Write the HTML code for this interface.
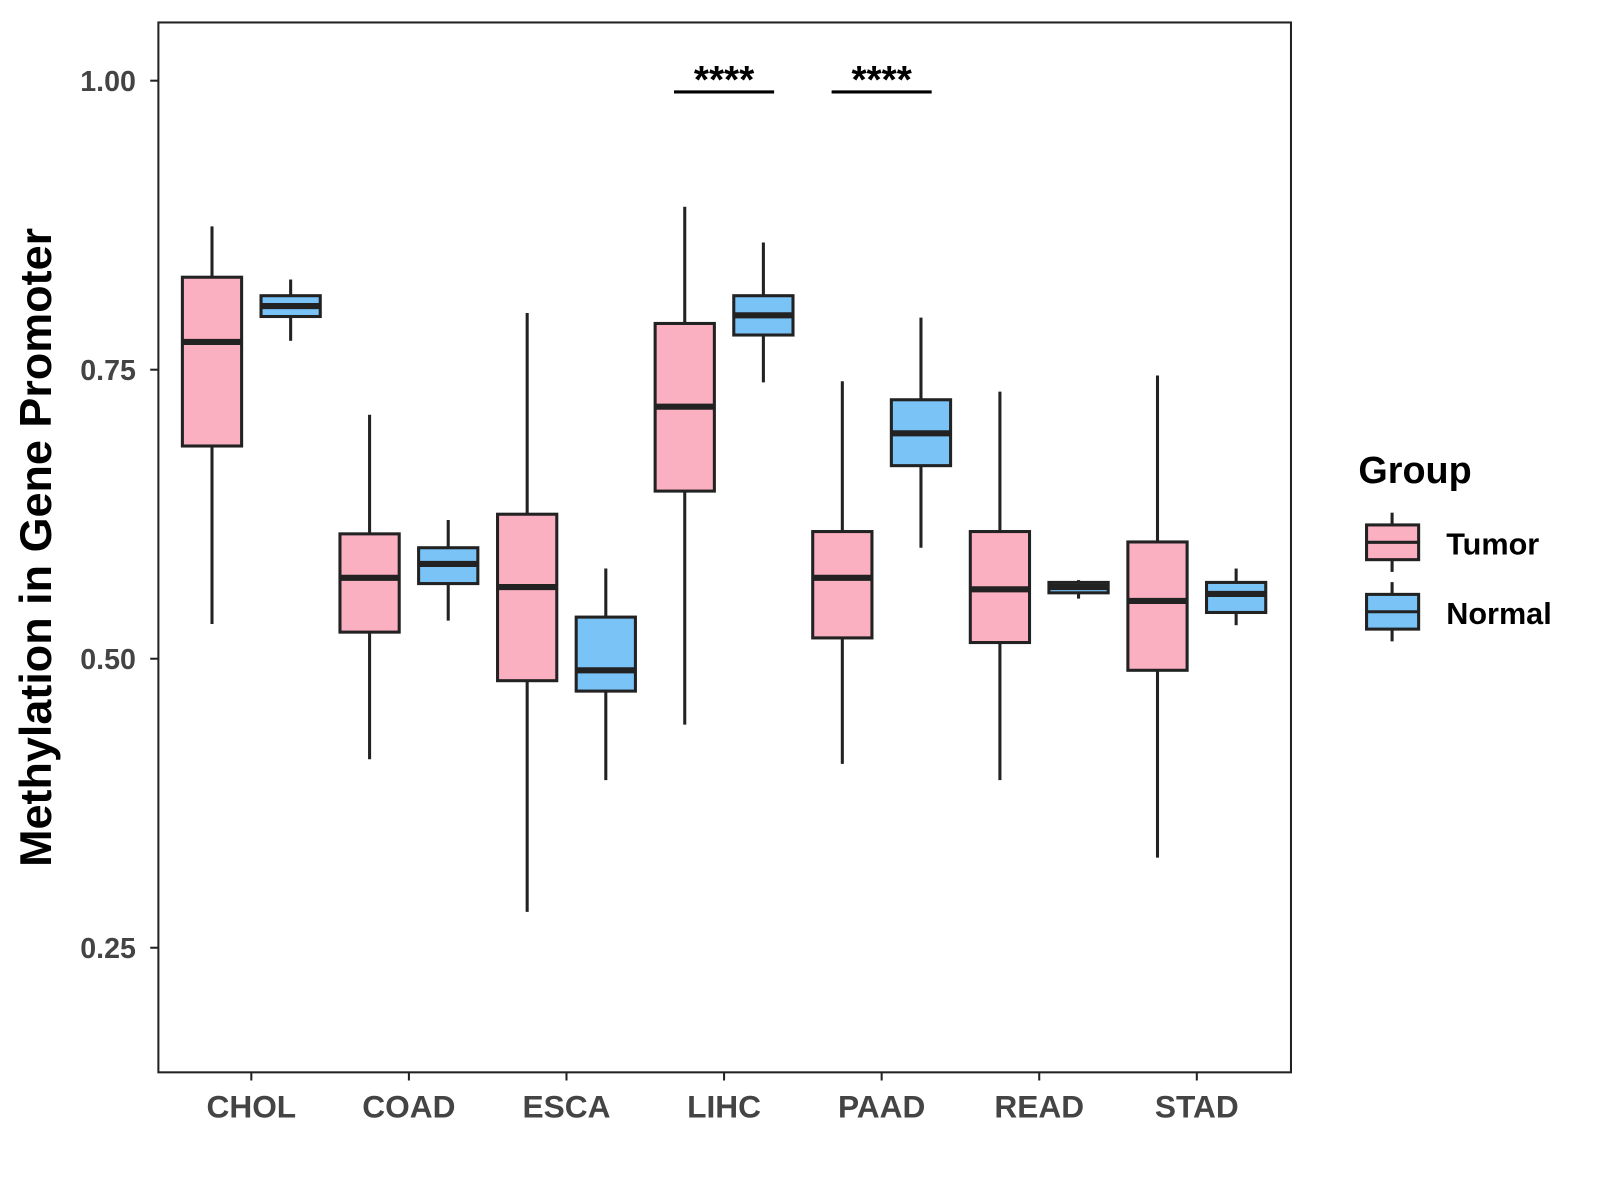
<!DOCTYPE html>
<html><head><meta charset="utf-8"><style>
html,body{margin:0;padding:0;background:#fff;}
svg{display:block;font-family:"Liberation Sans",Arial,sans-serif;}
</style></head><body>
<svg id="chart" width="1600" height="1200" viewBox="0 0 1566.5 1175">
<rect x="155" y="22" width="1109" height="1028" fill="#fff" stroke="#222" stroke-width="2"/>
<g id="axes"></g><g id="boxes"></g>
<text x="38" y="536" transform="rotate(-90 38 536)" text-anchor="middle" dominant-baseline="middle" font-size="44" font-weight="bold" fill="#000">Methylation in Gene Promoter</text>
<g>
<text x="1330" y="473" font-size="37" font-weight="bold">Group</text>
<g>
<line x1="1363" y1="502" x2="1363" y2="560" stroke="#222" stroke-width="3"/>
<rect x="1338" y="514" width="51" height="34" fill="#FBB0C1" stroke="#222" stroke-width="3"/>
<line x1="1338" y1="531" x2="1389" y2="531" stroke="#222" stroke-width="3"/>
<text x="1416" y="543" font-size="30" font-weight="bold">Tumor</text></g>
<g>
<line x1="1363" y1="570" x2="1363" y2="628" stroke="#222" stroke-width="3"/>
<rect x="1338" y="582" width="51" height="34" fill="#79C3F7" stroke="#222" stroke-width="3"/>
<line x1="1338" y1="599" x2="1389" y2="599" stroke="#222" stroke-width="3"/>
<text x="1416" y="611" font-size="30" font-weight="bold">Normal</text></g>
</g>
</svg>
<script>
const categories=["CHOL","COAD","ESCA","LIHC","PAAD","READ","STAD"];
const tumorStats=[[0.530,0.684,0.774,0.830,0.874],[0.413,0.523,0.570,0.608,0.711],[0.281,0.481,0.562,0.625,0.799],[0.443,0.645,0.718,0.790,0.891],[0.409,0.518,0.570,0.610,0.740],[0.395,0.514,0.560,0.610,0.731],[0.328,0.490,0.550,0.601,0.745]];
const normalStats=[[0.775,0.796,0.805,0.814,0.828],[0.533,0.565,0.582,0.596,0.620],[0.395,0.472,0.490,0.536,0.578],[0.739,0.780,0.797,0.814,0.860],[0.596,0.667,0.695,0.724,0.795],[0.552,0.557,0.562,0.566,0.568],[0.529,0.540,0.556,0.566,0.578]];
const yTicks=[0.25,0.50,0.75,1.00];
const yTickLabels=["0.25","0.50","0.75","1.00"];
const sigCategories=["LIHC","PAAD"];
const sigLabels=["****","****"];
const NS="http://www.w3.org/2000/svg";
function y(v){return 79+(1-v)*1132;}
function x(i){return 246+i*154.3;}
function mk(tag,attrs,parent,text){const e=document.createElementNS(NS,tag);for(const k in attrs)e.setAttribute(k,attrs[k]);if(text!==undefined)e.textContent=text;parent.appendChild(e);return e;}
const ax=document.getElementById('axes'),bx=document.getElementById('boxes');
yTicks.forEach((t,i)=>{
 const tk=mk('line',{x1:147,x2:155,y1:y(t),y2:y(t),stroke:'#222','stroke-width':2},ax);
 
 
 const l=mk('text',{x:133,y:y(t)+10,'text-anchor':'end','font-size':28,'font-weight':'bold',fill:'#444'},ax,yTickLabels[i]);
 
 
});
categories.forEach((c,i)=>{
 const tk=mk('line',{x1:x(i),x2:x(i),y1:1050,y2:1058,stroke:'#222','stroke-width':2},ax);
 
 
 const l=mk('text',{x:x(i),y:1094,'text-anchor':'middle','font-size':31,'font-weight':'bold',fill:'#444'},ax,c);
 
 
 [[tumorStats[i],-38.5,'#FBB0C1','tumor'],[normalStats[i],38.5,'#79C3F7','normal']].forEach(([s,off,fill,nm])=>{
  const cx=x(i)+off,w=58;
  const g=mk('g',{},bx);
  
  
  mk('line',{x1:cx,x2:cx,y1:y(s[4]),y2:y(s[0]),stroke:'#222','stroke-width':3},g);
  mk('rect',{x:cx-w/2,y:y(s[3]),width:w,height:Math.max(1,y(s[1])-y(s[3])),fill:fill,stroke:'#222','stroke-width':3},g);
  mk('line',{x1:cx-w/2,x2:cx+w/2,y1:y(s[2]),y2:y(s[2]),stroke:'#222','stroke-width':6},g);
 });
});
sigCategories.forEach((c,k)=>{
 const i=categories.indexOf(c);
 const g=mk('g',{},bx);
 
 
 mk('line',{x1:x(i)-49,x2:x(i)+49,y1:90,y2:90,stroke:'#000','stroke-width':3},g);
 mk('text',{x:x(i),y:91,'text-anchor':'middle','font-size':38,'font-weight':'bold'},g,sigLabels[k]);
});
</script>
</body></html>
